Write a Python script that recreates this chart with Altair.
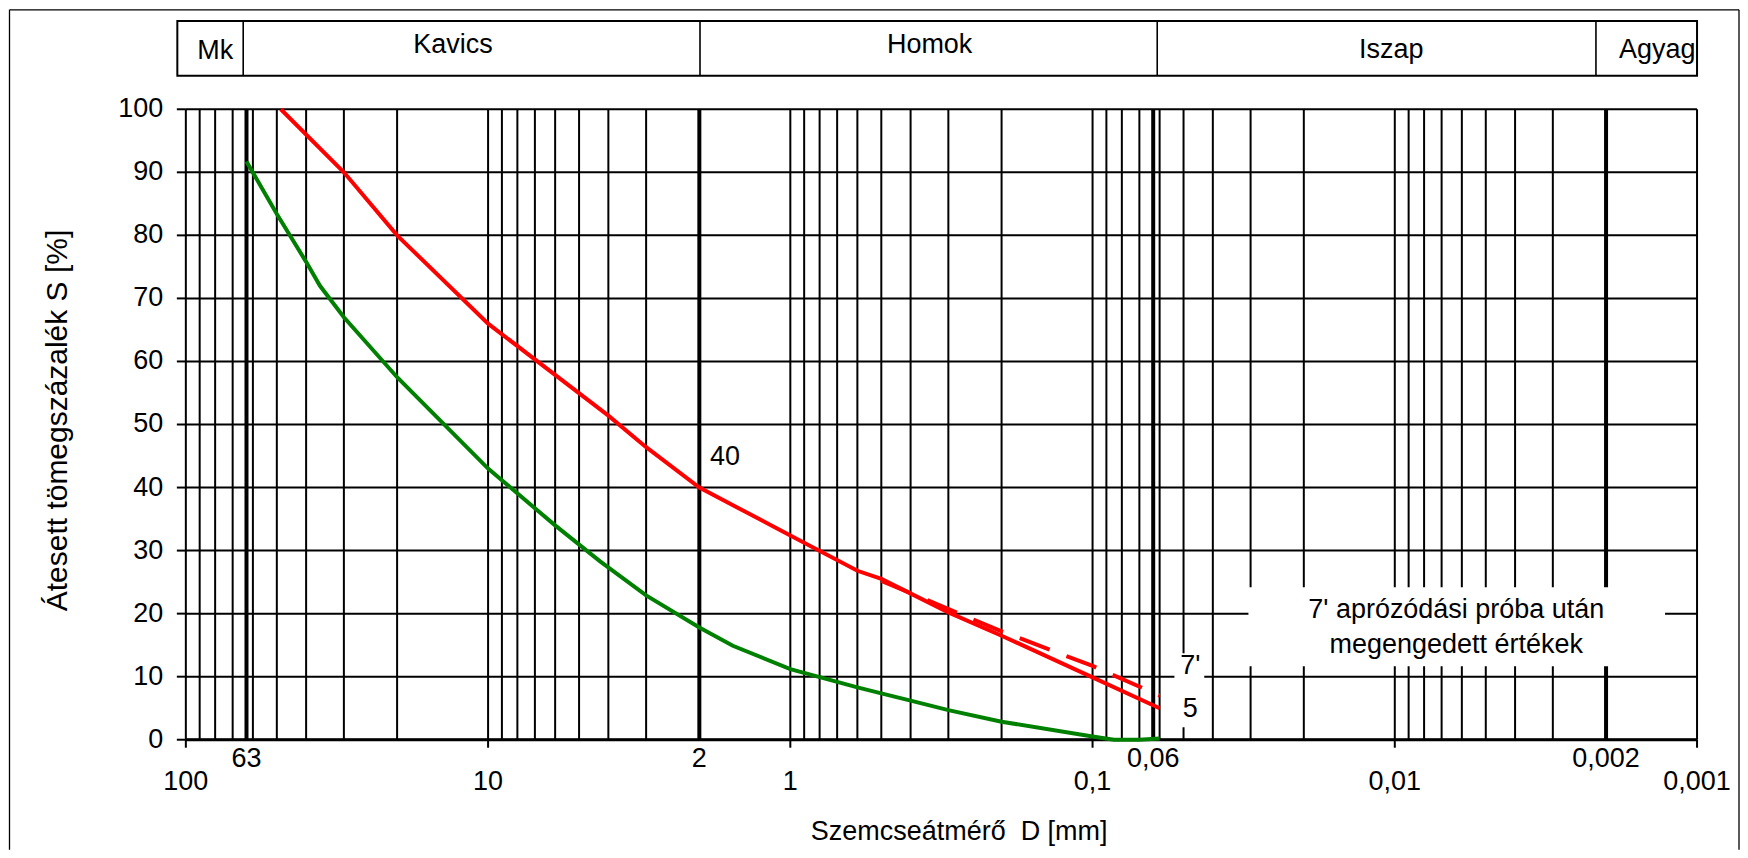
import altair as alt
import pandas as pd

FONT = "Liberation Sans"

# ---- data ----
red_d = [48.5, 30, 20, 10, 4, 3, 2, 1, 0.6, 0.5, 0.3, 0.2, 0.1, 0.06]
red_p = [100, 90, 80, 66, 51.4, 46.4, 40, 32.4, 26.8, 25.5, 20.2, 16.5, 9.9, 5]

red7_d = [0.5, 0.2, 0.1, 0.06]
red7_p = [25.2, 17.2, 11.7, 7]

green_d = [63, 50, 40, 36, 30, 20, 10, 6, 4.26, 3, 2, 1.55, 1, 0.6, 0.5, 0.4,
           0.3, 0.2, 0.1, 0.085, 0.07, 0.06]
green_p = [91.7, 83.4, 75.8, 72, 67, 57.5, 43, 34, 28.3, 22.9, 17.8, 14.9, 11.2,
           8.3, 7.35, 6.2, 4.7, 2.86, 0.5, 0.0, 0.0, 0.2]

# log grid structure
decades = [0.001, 0.01, 0.1, 1, 10]
multipliers = [1, 2, 3, 4, 5, 6, 7, 8, 9]
grid_vals = [round(m * d, 6) for d in decades for m in multipliers] + [100]
thick_vals = [63, 2, 0.063, 0.002]

decade_ticks = [100, 10, 1, 0.1, 0.01, 0.001]
decade_labels = ["100", "10", "1", "0,1", "0,01", "0,001"]
special_vals = [63, 2, 0.063, 0.002]
special_labels = ["63", "2", "0,06", "0,002"]

y_ticks = [0, 10, 20, 30, 40, 50, 60, 70, 80, 90, 100]
y_labels = [str(v) for v in y_ticks]

x_title = "Szemcseátmérő\u00a0 D [mm]"
y_title = "Átesett tömegszázalék S [%]"

# soil class header band
header_names = ["Mk", "Kavics", "Homok", "Iszap", "Agyag"]
header_lo = [106.7, 64.6, 1.99, 0.0611, 0.00216]
header_hi = [64.6, 1.99, 0.0611, 0.00216, 0.001]
header_text_x = [79.9, 13.06, 0.346, 0.01028, 0.001355]
header_text_y = [109.3, 110.2, 110.2, 109.4, 109.4]
header_top = 114.0
header_bottom = 105.3

# annotations
note_lines = ["7' aprózódási próba után", "megengedett értékek"]
note_x = [0.00626, 0.00626]
note_y = [20.5, 15.0]
note_box = dict(x1=0.0305, x2=0.001276, y1=11.65, y2=24.2)
label_box = dict(x1=0.0536, x2=0.0427, y1=1.98, y2=13.7)
curve_labels = ["40", "7'", "5"]
curve_label_x = [1.646, 0.0475, 0.0475]
curve_label_y = [44.8, 11.65, 4.83]

# ---- layout ----
W, H = 1512.5, 631
xs = alt.Scale(type="log", domain=[0.001, 100], reverse=True, nice=False)
ys = alt.Scale(domain=[0, 100], nice=False)
FS = 27
LW = 4


def X(f):
    return alt.X(f, scale=xs, axis=None)


def Y(f):
    return alt.Y(f, scale=ys, axis=None)


def txt(**kw):
    base = dict(fontSize=FS, font=FONT, color="black")
    base.update(kw)
    return base


# horizontal grid + y axis
ytick_df = pd.DataFrame({"v": y_ticks, "t": y_labels})
hgrid = alt.Chart(ytick_df).mark_rule(color="black", strokeWidth=2).encode(y=Y("v:Q"))
ytick_marks = alt.Chart(ytick_df).mark_rule(color="black", strokeWidth=2).encode(
    y=Y("v:Q"), x=alt.value(-9), x2=alt.value(0))
ytick_text = alt.Chart(ytick_df).mark_text(**txt(align="right", baseline="middle")).encode(
    y=Y("v:Q"), x=alt.value(-22.5), text="t:N")
baseline = alt.Chart(pd.DataFrame({"v": [0]})).mark_rule(color="black", strokeWidth=3).encode(
    y=Y("v:Q"))

# vertical grid
vgrid = alt.Chart(pd.DataFrame({"d": grid_vals})).mark_rule(
    color="black", strokeWidth=2).encode(x=X("d:Q"))
vthick = alt.Chart(pd.DataFrame({"d": thick_vals})).mark_rule(
    color="black", strokeWidth=4).encode(x=X("d:Q"))

# x axis ticks and labels
xtick_df = pd.DataFrame({"d": decade_ticks, "t": decade_labels})
xtick_marks = alt.Chart(xtick_df).mark_rule(color="black", strokeWidth=2).encode(
    x=X("d:Q"), y=alt.value(H), y2=alt.value(H + 8))
xtick_text = alt.Chart(xtick_df).mark_text(**txt(align="center", baseline="top")).encode(
    x=X("d:Q"), y=alt.value(H + 29), text="t:N")
special_text = alt.Chart(pd.DataFrame({"d": special_vals, "t": special_labels})).mark_text(
    **txt(align="center", baseline="top")).encode(
    x=X("d:Q"), y=alt.value(H + 6.5), text="t:N")

# axis titles
xtitle = alt.Chart(pd.DataFrame({"t": [x_title]})).mark_text(
    **txt(align="center", baseline="alphabetic")).encode(
    x=alt.value(774), y=alt.value(731.5), text="t:N")
ytitle = alt.Chart(pd.DataFrame({"t": [y_title]})).mark_text(
    **txt(align="center", baseline="alphabetic", angle=270, fontSize=30)).encode(
    x=alt.value(-119), y=alt.value(311.5), text="t:N")

# white boxes behind annotations
box_df = pd.DataFrame([note_box, label_box])
box_layer = alt.Chart(box_df).mark_rect(fill="white", strokeWidth=0).encode(
    x=X("x1:Q"), x2="x2:Q", y=Y("y1:Q"), y2="y2:Q")

# curves
red_layer = alt.Chart(pd.DataFrame({"d": red_d, "p": red_p})).mark_line(
    color="#ff0000", strokeWidth=LW).encode(x=X("d:Q"), y=Y("p:Q"))
red7_layer = alt.Chart(pd.DataFrame({"d": red7_d, "p": red7_p})).mark_line(
    color="#ff0000", strokeWidth=LW, strokeDash=[32, 18]).encode(
    x=X("d:Q"), y=Y("p:Q"), order=alt.Order("d:Q", sort="descending"))
green_layer = alt.Chart(pd.DataFrame({"d": green_d, "p": green_p})).mark_line(
    color="#008000", strokeWidth=LW).encode(x=X("d:Q"), y=Y("p:Q"))

# header band
hdr_rect = alt.Chart(pd.DataFrame({"lo": [header_lo[0]], "hi": [header_hi[-1]],
                                   "top": [header_top], "bot": [header_bottom]})).mark_rect(
    fill="white", stroke="black", strokeWidth=2).encode(
    x=X("lo:Q"), x2="hi:Q", y=Y("bot:Q"), y2="top:Q")
hdr_div = alt.Chart(pd.DataFrame({"d": header_lo[1:],
                                  "top": [header_top] * 4, "bot": [header_bottom] * 4})).mark_rule(
    color="black", strokeWidth=1.6).encode(x=X("d:Q"), y=Y("bot:Q"), y2="top:Q")
hdr_text = alt.Chart(pd.DataFrame({"x": header_text_x, "y": header_text_y,
                                   "t": header_names})).mark_text(
    **txt(align="center", baseline="middle")).encode(x=X("x:Q"), y=Y("y:Q"), text="t:N")

note_layer = alt.Chart(pd.DataFrame({"x": note_x, "y": note_y, "t": note_lines})).mark_text(
    **txt(align="center", baseline="middle")).encode(x=X("x:Q"), y=Y("y:Q"), text="t:N")
curve_lbl_layer = alt.Chart(pd.DataFrame({"x": curve_label_x, "y": curve_label_y,
                                          "t": curve_labels})).mark_text(
    **txt(align="center", baseline="middle")).encode(x=X("x:Q"), y=Y("y:Q"), text="t:N")

# outer frame of the figure (left, top, right edges)
one = pd.DataFrame({"a": [0]})
frame_l = alt.Chart(one).mark_rule(color="black", strokeWidth=1.3).encode(
    x=alt.value(-176.5), y=alt.value(-99.5), y2=alt.value(741))
frame_t = alt.Chart(one).mark_rule(color="black", strokeWidth=1.3).encode(
    x=alt.value(-176.5), x2=alt.value(1554.5), y=alt.value(-99.5))
frame_r = alt.Chart(one).mark_rule(color="black", strokeWidth=1.3).encode(
    x=alt.value(1554.5), y=alt.value(-99.5), y2=alt.value(741))

chart = alt.layer(
    hgrid, vgrid, vthick, box_layer, baseline,
    ytick_marks, ytick_text, xtick_marks, xtick_text, special_text,
    red_layer, red7_layer, green_layer,
    hdr_rect, hdr_div, hdr_text,
    note_layer, curve_lbl_layer,
    xtitle, ytitle,
    frame_l, frame_t, frame_r,
).properties(
    width=W, height=H, padding=0,
).configure(
    font=FONT,
    view=alt.ViewConfig(stroke=None),
)

chart.save("out.html", embed_options={"renderer": "svg", "actions": False})
